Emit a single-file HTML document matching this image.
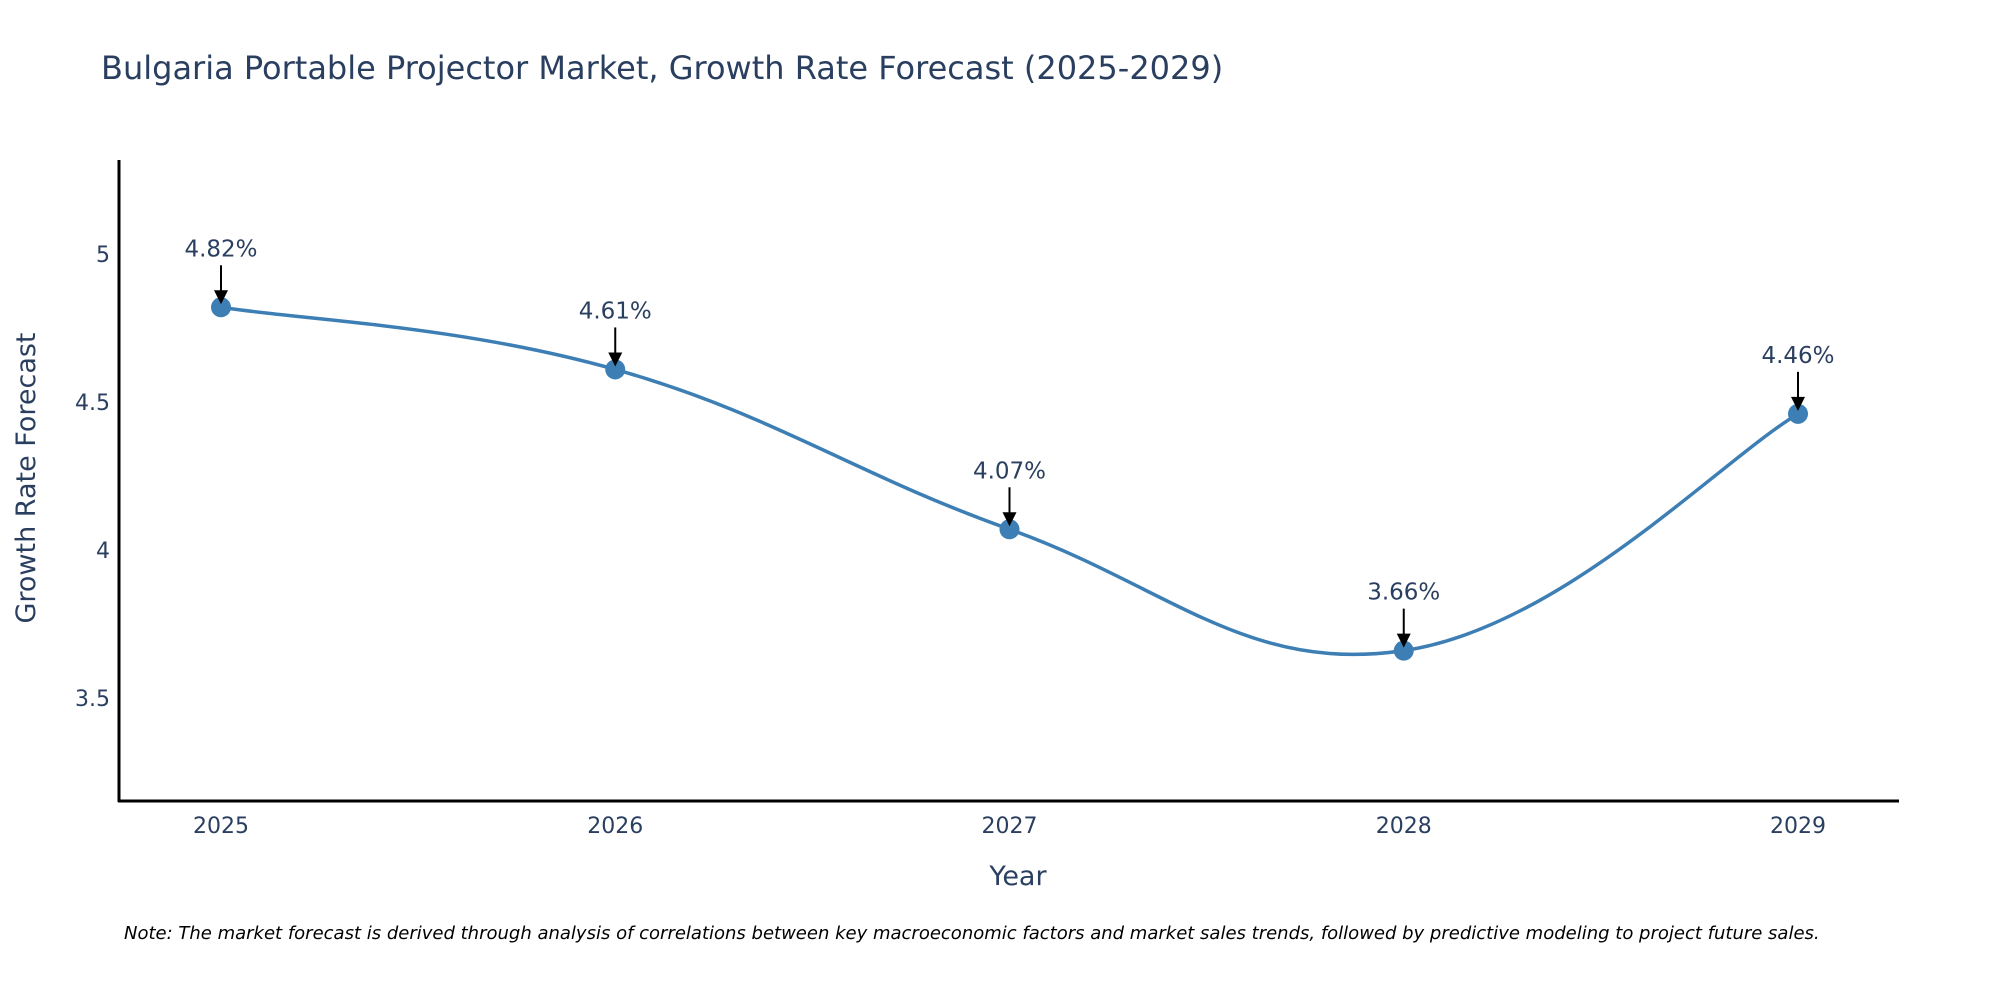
<!DOCTYPE html>
<html><head><meta charset="utf-8"><style>
body{margin:0;background:#fff;}
svg{display:block;font-family:"DejaVu Sans","Liberation Sans",sans-serif;}
</style></head><body>
<svg id="chart" width="2000" height="1000">
<text x="101" y="79" font-size="32" fill="#2a3f5f">Bulgaria Portable Projector Market, Growth Rate Forecast (2025-2029)</text>
<g id="yticks"></g><g id="xticks"></g>
<g id="series"></g>
<line x1="119" y1="160" x2="119" y2="802" stroke="#000" stroke-width="3"/>
<line x1="118" y1="801" x2="1899" y2="801" stroke="#000" stroke-width="3"/>
<text x="1018" y="885" font-size="27" fill="#2a3f5f" text-anchor="middle">Year</text>
<text transform="translate(35,478) rotate(-90)" font-size="27" fill="#2a3f5f" text-anchor="middle">Growth Rate Forecast</text>
<text x="124" y="939" font-size="18" font-style="italic" fill="#000">Note: The market forecast is derived through analysis of correlations between key macroeconomic factors and market sales trends, followed by predictive modeling to project future sales.</text>
</svg>
<script>
const years=[2025,2026,2027,2028,2029];
const values=[4.82,4.61,4.07,3.66,4.46];
const labels=["4.82%","4.61%","4.07%","3.66%","4.46%"];
const yTicks=[3.5,4,4.5,5];
const NS="http://www.w3.org/2000/svg";
const xs=y=>221+(y-2025)*394.25;
const ys=v=>550-(v-4)*296;
function mk(t,a,p){const e=document.createElementNS(NS,t);for(const k in a)e.setAttribute(k,a[k]);p.appendChild(e);return e;}
const yt=document.getElementById('yticks');
yTicks.forEach(v=>{const t=mk('text',{x:110,y:ys(v)+8,'font-size':22,fill:'#2a3f5f','text-anchor':'end'},yt);


t.textContent=v;});
const xt=document.getElementById('xticks');
years.forEach(y=>{const t=mk('text',{x:xs(y),y:833,'font-size':22,fill:'#2a3f5f','text-anchor':'middle'},xt);


t.textContent=y;});
const g=document.getElementById('series');
const P=years.map((y,i)=>[xs(y),ys(values[i])]);
let d=`M${P[0][0]},${P[0][1]}`;const s=0.2;
for(let i=0;i<P.length-1;i++){const p0=P[Math.max(0,i-1)],p1=P[i],p2=P[i+1],p3=P[Math.min(P.length-1,i+2)];
const c1=[p1[0]+(p2[0]-p0[0])*s,p1[1]+(p2[1]-p0[1])*s],c2=[p2[0]-(p3[0]-p1[0])*s,p2[1]-(p3[1]-p1[1])*s];
d+=` C${c1[0]},${c1[1]} ${c2[0]},${c2[1]} ${p2[0]},${p2[1]}`;}
const line=mk('path',{d:d,fill:'none',stroke:'#3d7fb4','stroke-width':3.5},g);


P.forEach((p,i)=>{
const c=mk('circle',{cx:p[0],cy:p[1],r:10,fill:'#3d7fb4'},g);


const a=mk('line',{x1:p[0],y1:p[1]-42,x2:p[0],y2:p[1]-14,stroke:'#000','stroke-width':2},g);


const h=mk('polygon',{points:`${p[0]-7},${p[1]-17} ${p[0]+7},${p[1]-17} ${p[0]},${p[1]-3}`,fill:'#000'},g);


const t=mk('text',{x:p[0],y:p[1]-51,'font-size':23,fill:'#2a3f5f','text-anchor':'middle'},g);


t.textContent=labels[i];});
</script>
</body></html>
